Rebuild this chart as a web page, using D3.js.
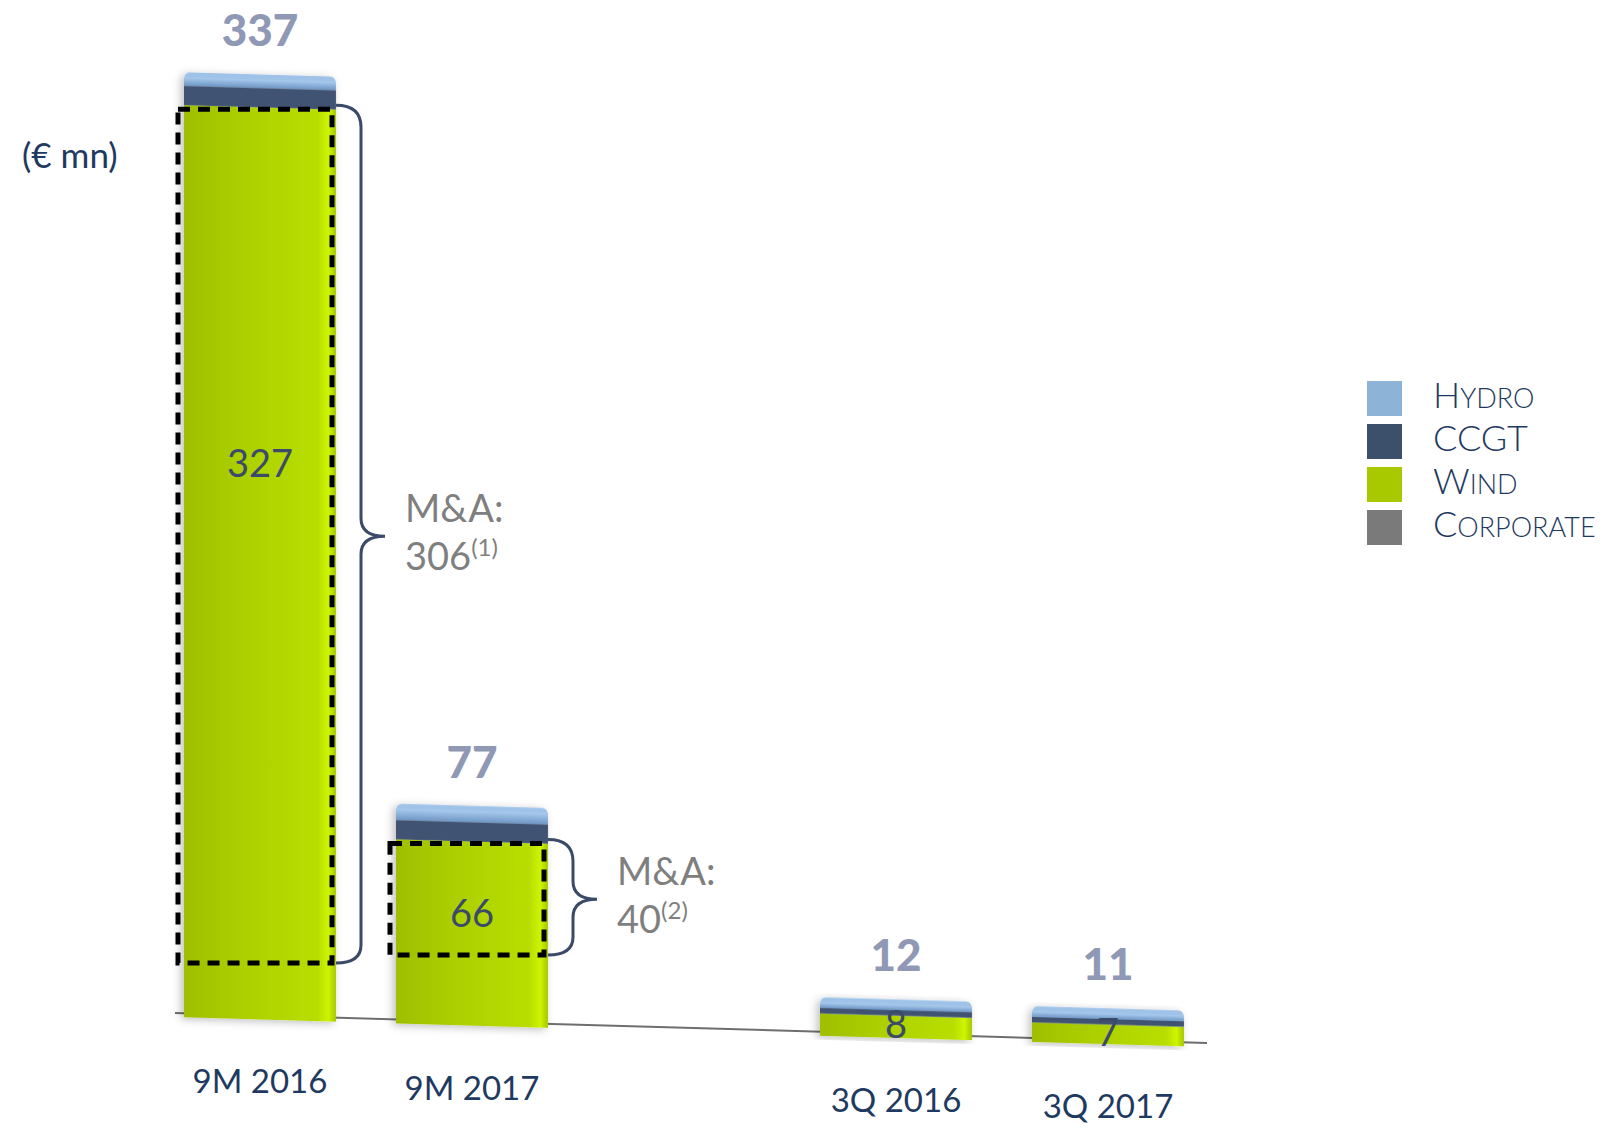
<!DOCTYPE html>
<html>
<head>
<meta charset="utf-8">
<script src="https://cdn.jsdelivr.net/npm/d3@7"></script>
<style>
  body { margin: 0; background: #fff; }
  text { font-family: Lato, "Open Sans", sans-serif; }
</style>
</head>
<body>
<script>
// values
var categories = ['9M 2016', '9M 2017', '3Q 2016', '3Q 2017'];
var hydro = [3, 4, 2, 2];
var ccgt = [7, 7, 2, 2];
var wind = [327, 66, 8, 7];
var corporate = [0, 0, 0, 0];
var totals = [337, 77, 12, 11];
var maValues = [306, 40];
var maNotes = ['(1)', '(2)'];
var legendKeys = ['Hydro', 'CCGT', 'Wind', 'Corporate'];
var legendColors = ['#8db3d6', '#3c4f6b', '#a8c800', '#7a7a7a'];

var width = 1613, height = 1131;
var capH = 5;

var svg = d3.select('body').append('svg')
    .attr('width', width)
    .attr('height', height);

var defs = svg.append('defs');
var gWind = defs.append('linearGradient').attr('id', 'gWind');
gWind.append('stop').attr('offset', '0%').attr('stop-color', '#9fbf00');
gWind.append('stop').attr('offset', '40%').attr('stop-color', '#acd000');
gWind.append('stop').attr('offset', '88%').attr('stop-color', '#b8de00');
gWind.append('stop').attr('offset', '95%').attr('stop-color', '#cef400');
gWind.append('stop').attr('offset', '100%').attr('stop-color', '#a6c600');
var gHydro = defs.append('linearGradient').attr('id', 'gHydro')
    .attr('x1', 0).attr('x2', 0).attr('y1', 0).attr('y2', 1);
gHydro.append('stop').attr('offset', '0%').attr('stop-color', '#a9cbee');
gHydro.append('stop').attr('offset', '100%').attr('stop-color', '#6f97c6');
var shadow = defs.append('filter').attr('id', 'shadow')
    .attr('x', '-20%').attr('y', '-10%').attr('width', '140%').attr('height', '120%');
shadow.append('feDropShadow').attr('dx', -3).attr('dy', 2)
    .attr('stdDeviation', 4).attr('flood-opacity', 0.25);

// two groups of bars with an empty slot between them
var slots = [categories[0], categories[1], 'spacer', categories[2], categories[3]];
var x = d3.scaleBand().domain(slots).range([154, 1214])
    .paddingInner(0.283).paddingOuter(0.1415);
var h = d3.scaleLinear().domain([0, d3.max(totals)]).range([0, 940]);

// slanted floor line
var baseY = d3.scaleLinear().domain([175, 1207]).range([1013, 1043]);
var slope = (baseY(1207) - baseY(175)) / (1207 - 175);
var skewDeg = Math.atan(slope) * 180 / Math.PI;

var rows = categories.map(function (c, i) {
    return { cat: c, wind: wind[i], ccgt: ccgt[i], hydro: hydro[i], corporate: corporate[i] };
});
var stack = d3.stack().keys(['wind', 'ccgt', 'hydro', 'corporate'])(rows);
var fills = { wind: 'url(#gWind)', ccgt: '#3f5372', hydro: 'url(#gHydro)', corporate: '#7a7a7a' };

// floor
svg.append('line')
    .attr('x1', 175).attr('y1', baseY(175))
    .attr('x2', 1207).attr('y2', baseY(1207))
    .attr('stroke', '#6e6e6e').attr('stroke-width', 2);

var w = x.bandwidth();

function bottomAt(i, dx) {
    var x0 = x(categories[i]);
    return baseY(x0) + 4 + dx * slope;
}

var bars = svg.selectAll('g.bar').data(rows).enter().append('g')
    .attr('class', 'bar')
    .attr('filter', 'url(#shadow)')
    .attr('transform', function (d) {
        var x0 = x(d.cat);
        return 'translate(' + x0 + ',' + (baseY(x0) + 4) + ') skewY(' + skewDeg + ')';
    });

// top bevel cap
bars.append('path')
    .attr('d', function (d, i) {
        var t = -h(totals[i]) - capH, r = 6;
        return 'M0,' + (t + r + 2) + ' Q0,' + t + ' ' + r + ',' + t +
            ' L' + (w - r) + ',' + t + ' Q' + w + ',' + t + ' ' + w + ',' + (t + r + 2) +
            ' L' + w + ',' + (t + capH + 2) + ' L0,' + (t + capH + 2) + 'Z';
    })
    .attr('fill', '#9fc2e8');

stack.forEach(function (layer) {
    bars.append('rect')
        .attr('x', 0)
        .attr('width', w)
        .attr('y', function (d, i) { return -h(layer[i][1]); })
        .attr('height', function (d, i) { return h(layer[i][1]) - h(layer[i][0]); })
        .attr('fill', fills[layer.key]);
});

// totals above bars
svg.selectAll('text.total').data(totals).enter().append('text')
    .attr('class', 'total')
    .attr('x', function (d, i) { return x(categories[i]) + w / 2; })
    .attr('y', function (d, i) { return bottomAt(i, w / 2) - h(d) - capH - 28; })
    .attr('text-anchor', 'middle')
    .attr('font-size', 44)
    .attr('font-weight', 900)
    .attr('fill', '#8f98b5')
    .text(function (d) { return d; });

// wind values inside bars
svg.selectAll('text.wind').data(wind).enter().append('text')
    .attr('class', 'wind')
    .attr('x', function (d, i) { return x(categories[i]) + w / 2; })
    .attr('y', function (d, i) { return bottomAt(i, w / 2) - h(d) + 0.39 * h(d) + 14; })
    .attr('text-anchor', 'middle')
    .attr('font-size', 38)
    .attr('fill', '#3b4a68')
    .text(function (d) { return d; });

// M&A dashed boxes, braces and notes
maValues.forEach(function (v, i) {
    var x0 = x(categories[i]);
    var top = bottomAt(i, w / 2) - h(wind[i]) + 2;
    var bot = top + h(v);
    svg.append('rect')
        .attr('x', x0 - 6).attr('y', top)
        .attr('width', w + 2).attr('height', h(v))
        .attr('fill', 'none')
        .attr('stroke', '#000')
        .attr('stroke-width', 5)
        .attr('stroke-dasharray', '12,8');

    var xs = x0 + w, xv = xs + 25, xt = xs + 49, mid = (top + bot) / 2, r = 18;
    svg.append('path')
        .attr('d', 'M' + xs + ',' + (top - 4) + ' Q' + xv + ',' + (top - 4) + ' ' + xv + ',' + (top + r) +
            ' L' + xv + ',' + (mid - r) + ' Q' + xv + ',' + mid + ' ' + xt + ',' + mid +
            ' Q' + xv + ',' + mid + ' ' + xv + ',' + (mid + r) +
            ' L' + xv + ',' + (bot - r) + ' Q' + xv + ',' + bot + ' ' + xs + ',' + bot)
        .attr('fill', 'none')
        .attr('stroke', '#3b4a68')
        .attr('stroke-width', 3);

    var t = svg.append('text')
        .attr('x', xt + 20).attr('y', mid - 14)
        .attr('font-size', 38)
        .attr('fill', '#7f7f7f');
    t.append('tspan').text('M&A:');
    var t2 = svg.append('text')
        .attr('x', xt + 20).attr('y', mid + 34)
        .attr('font-size', 38)
        .attr('fill', '#7f7f7f');
    t2.append('tspan').text(v);
    t2.append('tspan').attr('font-size', 24).attr('dy', -14).text(maNotes[i]);
});

// category labels under the floor
svg.selectAll('text.cat').data(categories).enter().append('text')
    .attr('class', 'cat')
    .attr('x', function (d) { return x(d) + w / 2; })
    .attr('y', function (d) { return baseY(x(d) + w / 2) + 78; })
    .attr('text-anchor', 'middle')
    .attr('font-size', 33)
    .attr('fill', '#1f3a60')
    .text(function (d) { return d; });

// unit
svg.append('text')
    .attr('x', 22).attr('y', 168)
    .attr('font-size', 35)
    .attr('fill', '#1f3a60')
    .text('(€ mn)');

// legend
var legend = svg.append('g').attr('transform', 'translate(1367,381)');
legendKeys.forEach(function (k, i) {
    var g = legend.append('g').attr('transform', 'translate(0,' + i * 43 + ')');
    g.append('rect').attr('width', 35).attr('height', 35).attr('fill', legendColors[i]);
    var t = g.append('text').attr('x', 66).attr('y', 27)
        .attr('font-size', 36)
        .attr('font-weight', 300)
        .attr('fill', '#1f3a60');
    if (k === k.toUpperCase()) {
        t.text(k);
    } else {
        t.append('tspan').text(k[0]);
        t.append('tspan').attr('font-size', 27).text(k.slice(1).toUpperCase());
    }
});
</script>
</body>
</html>
